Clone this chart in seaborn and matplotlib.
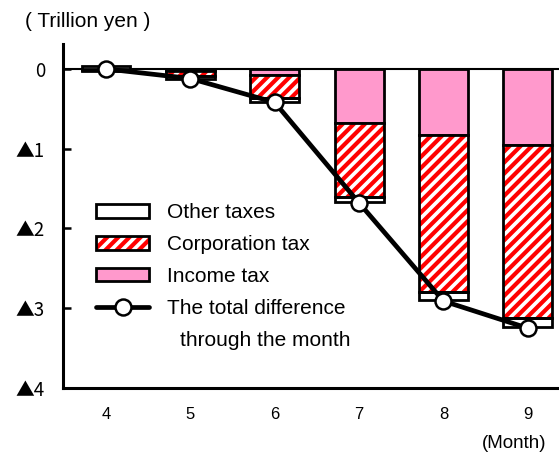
import numpy as np
import pandas as pd
import matplotlib
matplotlib.use("Agg")
import matplotlib.pyplot as plt
import seaborn as sns
from matplotlib.patches import Patch
from matplotlib.lines import Line2D
from matplotlib.legend_handler import HandlerTuple

# monthly difference vs previous year (trillion yen), negative = shortfall
months = ["4", "5", "6", "7", "8", "9"]
income_tax = [-0.01, -0.02, -0.07, -0.68, -0.83, -0.95]
corporation_tax = [-0.02, -0.07, -0.29, -0.93, -1.97, -2.17]
other_taxes = [0.04, -0.03, -0.05, -0.06, -0.10, -0.12]
total_diff = [0.0, -0.12, -0.42, -1.68, -2.91, -3.25]

ytick_vals = [0, -1, -2, -3, -4]
ytick_labels = ["0", "▲1", "▲2", "▲3", "▲4"]

sns.set_style("white")
plt.rcParams["font.family"] = ["Liberation Sans", "DejaVu Sans"]
plt.rcParams["hatch.linewidth"] = 3.0
plt.rcParams["text.color"] = "black"
plt.rcParams["xtick.color"] = "black"
plt.rcParams["ytick.color"] = "black"

df = pd.DataFrame({
    "month": months,
    "income": income_tax,
    "corp": corporation_tax,
    "other": other_taxes,
    "total": total_diff,
})

# stacking: income on top (from 0), then corporation, then other
corp_bottom = df["income"].to_numpy()
other_bottom = np.where(df["other"] < 0, df["income"] + df["corp"], 0)

PINK = "#FF99CC"
RED = "#FF0000"
W = 0.58
LW = 2.0

fig = plt.figure(figsize=(5.59, 4.59), dpi=100)
ax = fig.add_axes([0.1127, 0.1547, 0.8873, 0.749])

sns.barplot(data=df, x="month", y="income", color=PINK, width=W,
            edgecolor="black", linewidth=LW, saturation=1, ax=ax, zorder=2)
# hatched corporation tax: red hatch, then black outline on top
sns.barplot(data=df, x="month", y="corp", bottom=corp_bottom, color="white",
            width=W, edgecolor=RED, hatch="///", linewidth=0, saturation=1,
            ax=ax, zorder=2)
sns.barplot(data=df, x="month", y="corp", bottom=corp_bottom, color="black",
            fill=False, width=W, edgecolor="black", linewidth=LW, ax=ax,
            zorder=3)
sns.barplot(data=df, x="month", y="other", bottom=other_bottom, color="white",
            width=W, edgecolor="black", linewidth=LW, saturation=1, ax=ax,
            zorder=2)

ax.axhline(0, color="black", lw=1.5, zorder=1)

sns.lineplot(x=np.arange(len(months)), y=df["total"], color="black", lw=3.4,
             marker="o", markersize=11.5, markerfacecolor="white",
             markeredgecolor="black", markeredgewidth=1.8, ax=ax, zorder=5)

ax.set_xlim(-0.51, 5.37)
ax.set_ylim(-4, 0.31)
ax.set_yticks(ytick_vals)
ax.set_yticklabels(ytick_labels, fontfamily=["Noto Sans CJK JP", "DejaVu Sans"])
ax.set_xlabel("")
ax.set_ylabel("")
ax.tick_params(axis="y", left=True, direction="in", length=6, width=1.8,
               labelsize=13.5, pad=13)
ax.tick_params(axis="x", bottom=False, length=0, labelsize=12, pad=14)

sns.despine(ax=ax)
ax.spines["left"].set_linewidth(2.2)
ax.spines["bottom"].set_linewidth(2.2)
ax.spines["left"].set_color("black")
ax.spines["bottom"].set_color("black")

fig.text(0.045, 0.954, "( Trillion yen )", fontsize=15, va="center", ha="left")
fig.text(0.977, 0.034, "(Month)", fontsize=13.5, va="center", ha="right")

h_other = Patch(facecolor="white", edgecolor="black", linewidth=LW)
h_corp = (Patch(facecolor="white", edgecolor=RED, hatch="///", linewidth=0),
          Patch(fill=False, edgecolor="black", linewidth=LW))
h_income = Patch(facecolor=PINK, edgecolor="black", linewidth=LW)
h_total = Line2D([], [], color="black", lw=3.4, marker="o", markersize=11.5,
                 markerfacecolor="white", markeredgecolor="black",
                 markeredgewidth=1.8)
fig.legend([h_other, h_corp, h_income, h_total],
           ["Other taxes", "Corporation tax", "Income tax",
            "The total difference"],
           handler_map={tuple: HandlerTuple(ndivide=1)},
           loc="upper left", bbox_to_anchor=(0.172, 0.557),
           frameon=False, fontsize=15, handlelength=2.55,
           handleheight=0.6, handletextpad=0.85, labelspacing=0.62,
           borderaxespad=0, borderpad=0)
# second line of the last legend label, indented as in the original
fig.text(0.322, 0.259, "through the month", fontsize=15, va="center",
         ha="left")

fig.savefig("out.png", dpi=100)
